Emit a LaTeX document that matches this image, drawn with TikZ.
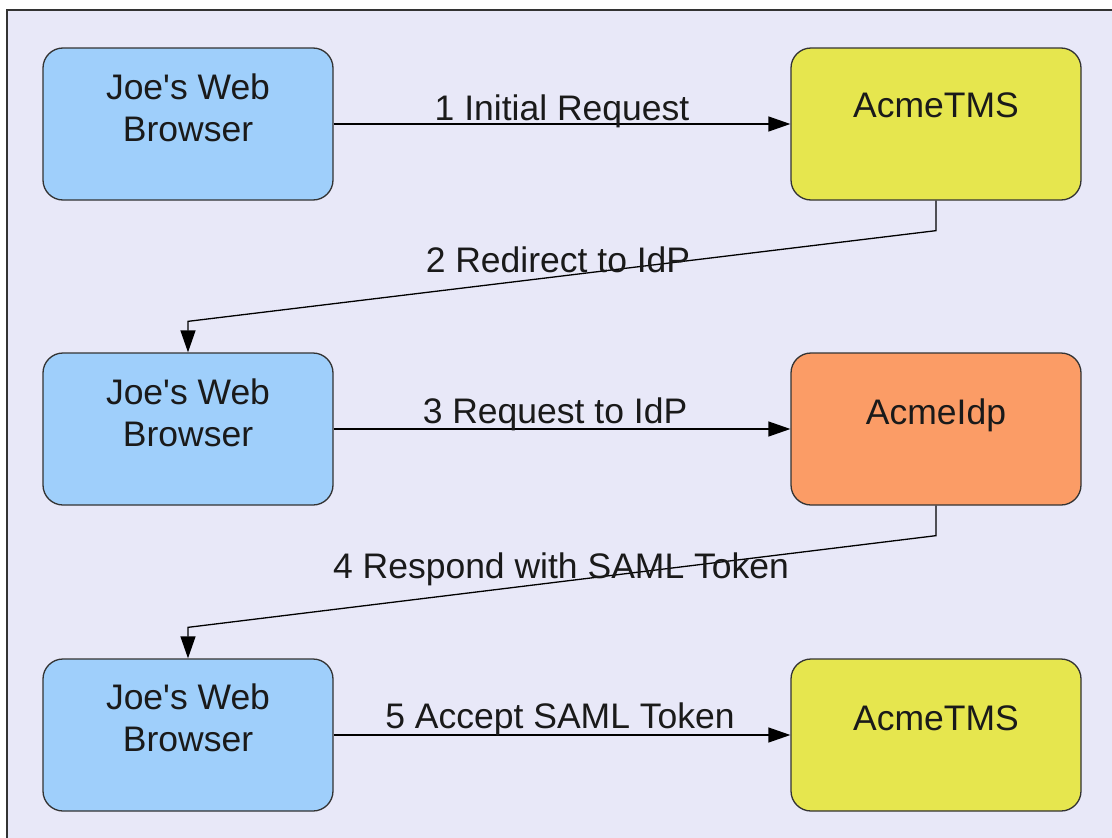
\documentclass[tikz,border=0pt]{standalone}
\usepackage{fontspec}
\setmainfont{Liberation Sans}[Ligatures=TeXOff]
\usetikzlibrary{arrows.meta,calc}
\definecolor{bg}{HTML}{E8E8F8}
\definecolor{boxblue}{HTML}{9FCFFB}
\definecolor{boxyellow}{HTML}{E6E64E}
\definecolor{boxorange}{HTML}{FB9C66}
\definecolor{ink}{HTML}{1A1A1A}
\definecolor{edge}{HTML}{333333}
\begin{document}
\begin{tikzpicture}[x=1pt,y=-1pt,
  box/.style={draw=edge, line width=1.3pt, rounded corners=20pt,
    minimum width=290pt, minimum height=152pt, inner sep=0pt},
  boxtext/.style={font=\fontsize{35.5}{42}\selectfont, text=ink,
    align=center, inner sep=0pt},
  flow/.style={draw=black, line width=1.3pt,
    -{Triangle[length=22pt,width=15pt]}},
  flowlabel/.style={font=\fontsize{35.5}{42}\selectfont, text=ink,
    inner sep=0pt, anchor=base}]
\useasboundingbox (0,0) rectangle (1112,838);
\fill[white] (0,0) rectangle (1112,838);
\fill[bg] (7,10) rectangle (1112,838);
\draw[edge, line width=1.5pt] (7,838) -- (7,10) -- (1112,10);

% boxes
\node[box, fill=boxblue]   (b1) at (188,124) {};
\node[box, fill=boxyellow] (t1) at (936,124) {};
\node[box, fill=boxblue]   (b2) at (188,429) {};
\node[box, fill=boxorange] (ip) at (936,429) {};
\node[box, fill=boxblue]   (b3) at (188,735) {};
\node[box, fill=boxyellow] (t2) at (936,735) {};

% box texts
\node[boxtext, anchor=north] (b1t) at ($(b1.north)+(0,26)$) {Joe's Web\\Browser};
\node[boxtext, anchor=north] (b2t) at ($(b2.north)+(0,26)$) {Joe's Web\\Browser};
\node[boxtext, anchor=north] (b3t) at ($(b3.north)+(0,25.5)$) {Joe's Web\\Browser};
\node[boxtext, anchor=base] (t1t) at ($(t1.north)+(0,70)$) {AcmeTMS};
\node[boxtext, anchor=base] (ipt) at ($(ip.north)+(0,72)$) {AcmeIdp};
\node[boxtext, anchor=base] (t2t) at ($(t2.north)+(0,72)$) {AcmeTMS};

% connectors
\draw[flow] (b1.east) -- (t1.west)
  node[flowlabel, midway, yshift=4pt] (l1) {1 Initial Request};

\coordinate (r2a) at ($(t1.south)+(0,30)$);
\coordinate (r2b) at ($(b2.north)+(0,-31)$);
\draw[flow] (t1.south) -- (r2a) -- (r2b)
  node[flowlabel, midway, xshift=-4pt, yshift=4pt] (l2) {2 Redirect to IdP}
  -- (b2.north);

\draw[flow] (b2.east) -- (ip.west)
  node[flowlabel, midway, xshift=-7pt, yshift=6pt] (l3) {3 Request to IdP};

\coordinate (r4a) at ($(ip.south)+(0,30)$);
\coordinate (r4b) at ($(b3.north)+(0,-31)$);
\draw[flow] (ip.south) -- (r4a) -- (r4b)
  node[flowlabel, midway, xshift=-1pt, yshift=3pt] (l4) {4 Respond with SAML Token}
  -- (b3.north);

\draw[flow] (b3.east) -- (t2.west)
  node[flowlabel, midway, xshift=-2pt, yshift=7pt] (l5) {5 Accept SAML Token};
\end{tikzpicture}
\end{document}
